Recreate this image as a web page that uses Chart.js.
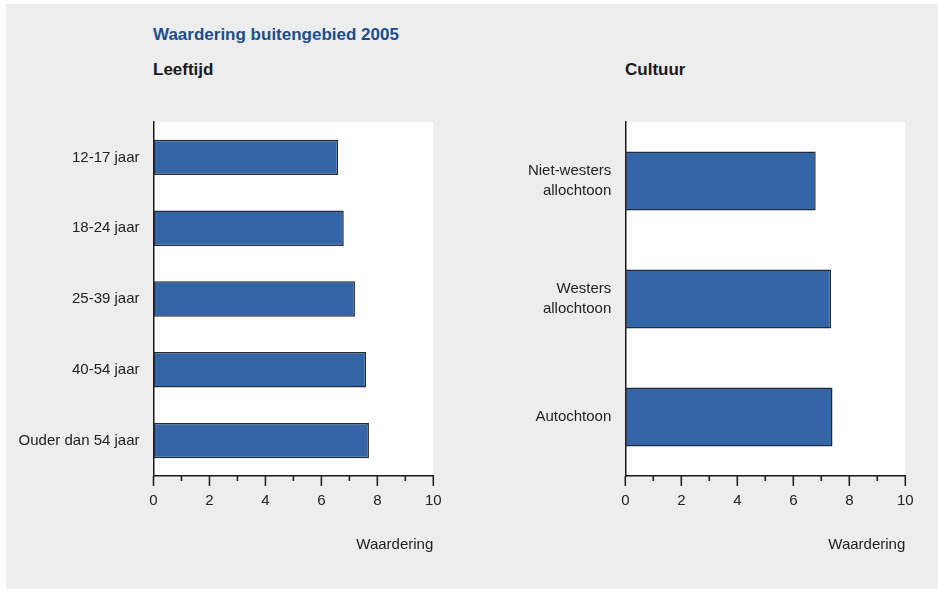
<!DOCTYPE html>
<html>
<head>
<meta charset="utf-8">
<script src="https://cdn.jsdelivr.net/npm/chart.js@4"></script>
<style>
  html, body { margin: 0; padding: 0; background: #ffffff; }
  body { width: 938px; height: 589px; position: relative; overflow: hidden;
         font-family: 'Liberation Sans', Arial, sans-serif; }
  #panel { position: absolute; left: 6px; top: 4px; width: 932px; height: 585px; background: #ededed; }
  .txt { position: absolute; font-weight: bold; font-size: 17px; line-height: 24px; white-space: nowrap; }
  #title { left: 153px; top: 23px; color: #1c4d8c; }
  #h1 { left: 153px; top: 58px; color: #1a1a1a; }
  #h2 { left: 625px; top: 58px; color: #1a1a1a; }
  canvas { position: absolute; }
  #wrapL { position: absolute; left: 0; top: 0; width: 470px; height: 589px; }
  #wrapR { position: absolute; left: 470px; top: 0; width: 468px; height: 589px; }
</style>
</head>
<body>
<div id="panel"></div>
<div class="txt" id="title">Waardering buitengebied 2005</div>
<div class="txt" id="h1">Leeftijd</div>
<div class="txt" id="h2">Cultuur</div>
<div id="wrapL"><canvas id="cL"></canvas></div>
<div id="wrapR"><canvas id="cR"></canvas></div>
<script>
const ageCategories = ['12-17 jaar', '18-24 jaar', '25-39 jaar', '40-54 jaar', 'Ouder dan 54 jaar'];
const ageValues = [6.6, 6.8, 7.2, 7.6, 7.7];
const cultureCategories = [['Niet-westers', 'allochtoon'], ['Westers', 'allochtoon'], 'Autochtoon'];
const cultureValues = [6.8, 7.35, 7.4];
const xTickValues = [0, 2, 4, 6, 8, 10];
const xMinorTickValues = [1, 3, 5, 7, 9];
const axisTitle = 'Waardering';

const FONT = "'Liberation Sans', Arial, sans-serif";

const plotBg = {
  id: 'plotBg',
  beforeDraw(chart) {
    const a = chart.chartArea, ctx = chart.ctx;
    ctx.save();
    ctx.fillStyle = '#ffffff';
    ctx.fillRect(a.left, a.top, a.right - a.left, a.bottom - a.top);
    ctx.restore();
  }
};
const tickMarks = {
  id: 'tickMarks',
  afterDraw(chart) {
    const x = chart.scales.x, ctx = chart.ctx, y0 = chart.chartArea.bottom;
    ctx.save();
    ctx.strokeStyle = '#1a1a1a';
    ctx.lineWidth = 1.5;
    const draw = (v, len) => {
      const px = x.getPixelForValue(v);
      ctx.beginPath();
      ctx.moveTo(px, y0);
      ctx.lineTo(px, y0 + len);
      ctx.stroke();
    };
    xTickValues.forEach(v => draw(v, 10));
    xMinorTickValues.forEach(v => draw(v, 5));
    ctx.restore();
  }
};

function makeChart(id, labels, values, yAxisWidth, padRight) {
  return new Chart(document.getElementById(id), {
    type: 'bar',
    data: {
      labels: labels,
      datasets: [{
        data: values,
        backgroundColor: '#3466a7',
        borderColor: '#232b38',
        borderWidth: 1.5,
        borderSkipped: false,
        categoryPercentage: 1.0,
        barPercentage: 0.5
      }]
    },
    options: {
      indexAxis: 'y',
      responsive: true,
      maintainAspectRatio: false,
      animation: false,
      devicePixelRatio: 1,
      layout: { padding: { left: 0, right: padRight, top: 122, bottom: 0 } },
      plugins: { legend: { display: false }, tooltip: { enabled: false } },
      scales: {
        x: {
          type: 'linear',
          min: 0, max: 10,
          afterBuildTicks(s) { s.ticks = xTickValues.map(v => ({ value: v })); },
          afterFit(s) { s.height = 113; },
          grid: { display: false },
          border: { display: true, color: '#1a1a1a', width: 1.5 },
          ticks: { font: { family: FONT, size: 15 }, color: '#222222', padding: 8, maxRotation: 0 },
          title: { display: true, text: axisTitle, align: 'end',
                   font: { family: FONT, size: 15 }, color: '#222222', padding: { top: 0, bottom: 35 } }
        },
        y: {
          afterFit(s) { s.width = yAxisWidth; },
          grid: { display: false },
          border: { display: true, color: '#1a1a1a', width: 1.5 },
          ticks: { font: { family: FONT, size: 15, lineHeight: 1.333 }, color: '#222222', padding: 6 }
        }
      }
    },
    plugins: [plotBg, tickMarks]
  });
}

makeChart('cL', ageCategories, ageValues, 153.5, 36.7);
makeChart('cR', cultureCategories, cultureValues, 155.3, 32.7);
</script>
</body>
</html>
